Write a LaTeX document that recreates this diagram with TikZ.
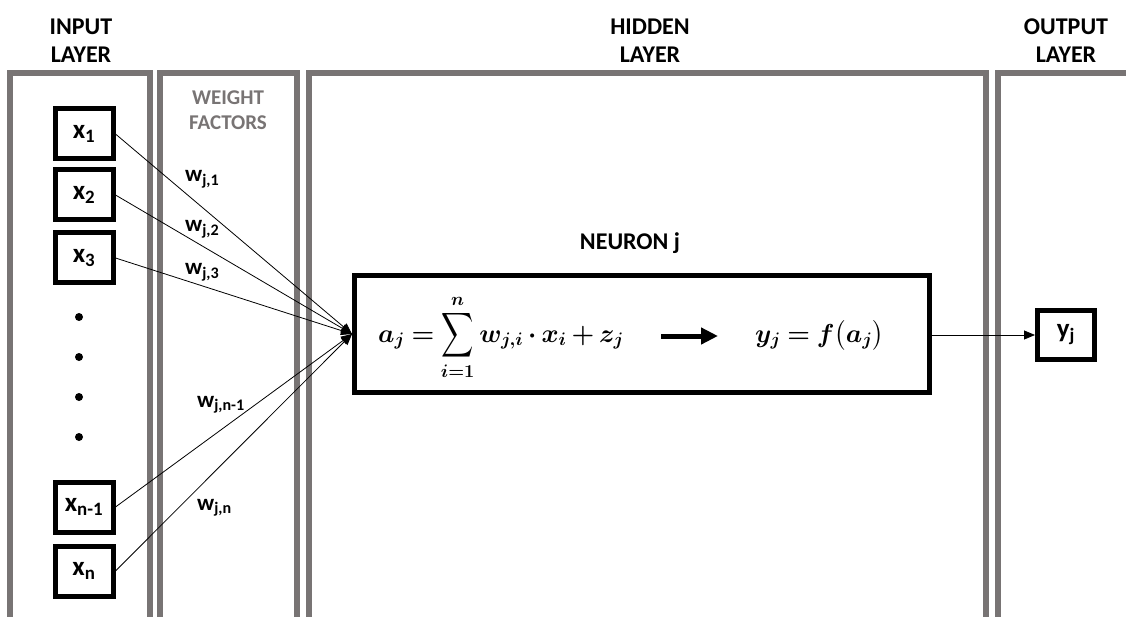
\documentclass[tikz,border=0pt]{standalone}
\usepackage{fix-cm}
\usepackage{amsmath,graphicx}
\usepackage{fontspec}
\setmainfont{Carlito}
\usetikzlibrary{arrows.meta,positioning,calc}
\definecolor{framegray}{RGB}{120,116,116}
\newcommand{\bigsum}{\mathop{\vcenter{\hbox{\scalebox{0.9}[1.25]{$\displaystyle\sum$}}}}\limits}

\begin{document}
\begin{tikzpicture}[x=1pt,y=-1pt,
  layer/.style={draw=framegray,line width=5.5pt},
  head/.style={font=\bfseries\fontsize{24}{28}\selectfont,align=center},
  inbox/.style={draw,line width=5pt,minimum width=58pt,minimum height=50pt,
                inner sep=0pt,font=\bfseries\fontsize{27}{30}\selectfont},
  wlab/.style={font=\bfseries\fontsize{23}{26}\selectfont,anchor=base west,inner sep=0pt},
  eqn/.style={anchor=base west,inner sep=0pt,font=\fontsize{26}{30}\selectfont\boldmath},
  dot/.style={circle,fill,inner sep=0pt,minimum size=8pt},
  arr/.style={-{Triangle[length=11pt,width=9pt]},line width=0.8pt},
  fat/.style={-{Triangle[length=17pt,width=16pt]},line width=5pt}]
\useasboundingbox (0,0) rectangle (1126,617);
% layer frames, open at the bottom
\draw[layer] (10,617) -- (10,73) -- (150,73) -- (150,617);
\draw[layer] (160,617) -- (160,73) -- (297,73) -- (297,617);
\draw[layer] (309,617) -- (309,73) -- (986,73) -- (986,617);
\draw[layer] (998,617) -- (998,73) -- (1130,73);
% headers
\node[head] (hin) at (81,41) {INPUT\\LAYER};
\node[head] (hhid) at (650,41) {HIDDEN\\LAYER};
\node[head] (hout) at (1066,41) {OUTPUT\\LAYER};
\node[head,text=framegray,font=\bfseries\fontsize{21}{25}\selectfont] (hwt) at (228,110) {WEIGHT\\FACTORS};
% inputs
\node[inbox] (x1) at (84,134) {x\textsubscript{1}};
\node[inbox] (x2) at (84,195) {x\textsubscript{2}};
\node[inbox] (x3) at (84,258) {x\textsubscript{3}};
\node[inbox] (xn1) at (84,507) {x\textsubscript{n-1}};
\node[inbox] (xn) at (84,571) {x\textsubscript{n}};
\node[dot] (d1) at (79,317) {};
\node[dot] (d2) at (79,357) {};
\node[dot] (d3) at (79,397) {};
\node[dot] (d4) at (79,437) {};
% weights
\node[wlab] (w1) at (185,182) {w\textsubscript{j,1}};
\node[wlab] (w2) at (185,232) {w\textsubscript{j,2}};
\node[wlab] (w3) at (185,275) {w\textsubscript{j,3}};
\node[wlab] (wn1) at (197,407) {w\textsubscript{j,n-1}};
\node[wlab] (wn) at (197,510) {w\textsubscript{j,n}};
% neuron
\node[head] (hneu) at (630,243) {NEURON j};
\node[draw,line width=5pt,minimum width=575pt,minimum height=117pt] (neuron) at (642,334) {};
\node[eqn] (eq) at (378,342)
  {$\thickmuskip=4mu \medmuskip=3mu a_j = \bigsum_{i=1}^{n} w_{j,i}\cdot x_i + z_j$};
\node[eqn] (fy) at (755,342)
  {$\thickmuskip=4mu y_j = f\big(a_j\big)$};
\node[inbox,minimum width=57pt,minimum height=48pt] (yj) at (1066,335) {y\textsubscript{j}};
% connectors
\foreach \n in {x1,x2,x3,xn1,xn}
  \draw[arr] (\n.east) -- (neuron.west);
\draw[fat,shorten <=37pt,shorten >=37pt] ([yshift=6pt]eq.base east) -- ([yshift=6pt]fy.base west);
\draw[arr] (neuron.east |- yj) -- (yj.west);
\end{tikzpicture}
\end{document}
